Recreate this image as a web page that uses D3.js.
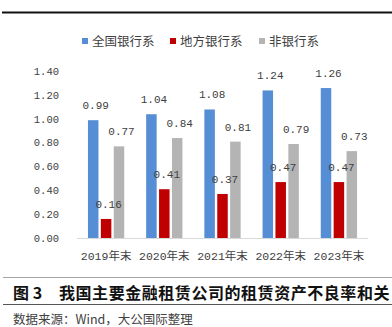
<!DOCTYPE html>
<html><head><meta charset="utf-8">
<script src="https://cdn.jsdelivr.net/npm/d3@7"></script>
<style>
html,body{margin:0;padding:0;background:#fff;overflow:hidden;}
svg{display:block;}
</style></head>
<body>
<script>
const categories = ["2019年末","2020年末","2021年末","2022年末","2023年末"];
const seriesNames = ["全国银行系","地方银行系","非银行系"];
const nationalBank = [0.99,1.04,1.08,1.24,1.26];
const localBank = [0.16,0.41,0.37,0.47,0.47];
const nonBank = [0.77,0.84,0.81,0.79,0.73];
const yTicks = [0,0.2,0.4,0.6,0.8,1.0,1.2,1.4];
const colors = ["#558ED5","#C00000","#B4B4B4"];
const titleLabel = "图 3";
const titleText = "我国主要金融租赁公司的租赁资产不良率和关";
const sourceText = "数据来源：Wind，大公国际整理";

const W = 392, H = 327;
const seriesData = [nationalBank, localBank, nonBank];
const numFont = "'Liberation Mono','Noto Sans CJK SC',monospace";
const cjkFont = "'Noto Sans CJK SC',sans-serif";

const svg = d3.select("body").append("svg").attr("width", W).attr("height", H);

// top rule
svg.append("line").attr("x1",2).attr("x2",W).attr("y1",12.5).attr("y2",12.5)
  .attr("stroke","#111").attr("stroke-width",2);

const y = d3.scaleLinear().domain([0,1.4]).range([238,71.4]);
const x0 = d3.scaleBand().domain(categories).range([77,368]).padding(0);
const x1 = d3.scaleBand().domain(seriesNames).range([0,x0.bandwidth()])
  .paddingInner(0.186).paddingOuter(0.85);

// y axis labels
svg.append("g").selectAll("text").data(yTicks).join("text")
  .attr("x",59).attr("y",d=>y(d)).attr("dy","0.35em")
  .attr("text-anchor","end")
  .attr("font-family",numFont).attr("font-size",10.5).attr("fill","#404040")
  .text(d=>d3.format(".2f")(d));

// baseline axis
svg.append("line").attr("x1",77).attr("x2",368).attr("y1",y(0)+0.5).attr("y2",y(0)+0.5)
  .attr("stroke","#D9D9D9").attr("stroke-width",1);

// bars
const barLayer = svg.append("g");
const labelLayer = svg.append("g");
seriesNames.forEach((s,si)=>{
  barLayer.append("g").attr("fill",colors[si])
    .selectAll("rect").data(seriesData[si]).join("rect")
    .attr("x",(d,i)=>x0(categories[i])+x1(s))
    .attr("y",d=>y(d))
    .attr("width",x1.bandwidth())
    .attr("height",d=>y(0)-y(d));
  labelLayer.append("g").selectAll("text").data(seriesData[si]).join("text")
    .attr("x",(d,i)=>x0(categories[i])+x1(s)+x1.bandwidth()/2+2.5)
    .attr("y",d=>y(d)-11)
    .attr("text-anchor","middle")
    .attr("font-family",numFont).attr("font-size",11).attr("fill","#404040")
    .text(d=>d3.format(".2f")(d));
});

// category labels
svg.append("g").selectAll("text").data(categories).join("text")
  .attr("x",d=>x0(d)+x0.bandwidth()/2).attr("y",259.5)
  .attr("text-anchor","middle")
  .attr("font-family",numFont).attr("font-size",11.5).attr("fill","#404040")
  .text(d=>d);

// legend
const legendX = [82,170,259];
const lg = svg.append("g").selectAll("g").data(seriesNames).join("g")
  .attr("transform",(d,i)=>`translate(${legendX[i]},41)`);
lg.append("rect").attr("x",0).attr("y",-3).attr("width",6).attr("height",6)
  .attr("fill",(d,i)=>colors[i]);
lg.append("text").attr("x",10).attr("y",0).attr("dy","0.36em")
  .attr("font-family",cjkFont).attr("font-size",12.5).attr("fill","#404040")
  .text(d=>d);

// separator
svg.append("line").attr("x1",3).attr("x2",W).attr("y1",277.5).attr("y2",277.5)
  .attr("stroke","#A6A6A6").attr("stroke-width",1);

// title
svg.append("text").attr("x",13).attr("y",299)
  .attr("font-family",cjkFont).attr("font-size",16).attr("font-weight","bold").attr("fill","#111")
  .text(titleLabel);
svg.append("text").attr("x",59).attr("y",299)
  .attr("font-family",cjkFont).attr("font-size",16).attr("font-weight","bold").attr("fill","#111")
  .attr("letter-spacing",0.55)
  .text(titleText);

svg.append("line").attr("x1",3).attr("x2",W).attr("y1",304.5).attr("y2",304.5)
  .attr("stroke","#555").attr("stroke-width",1.2);

// source
svg.append("text").attr("x",13).attr("y",323.5)
  .attr("font-family",cjkFont).attr("font-size",12.5).attr("fill","#404040")
  .text(sourceText);
</script>
</body></html>
